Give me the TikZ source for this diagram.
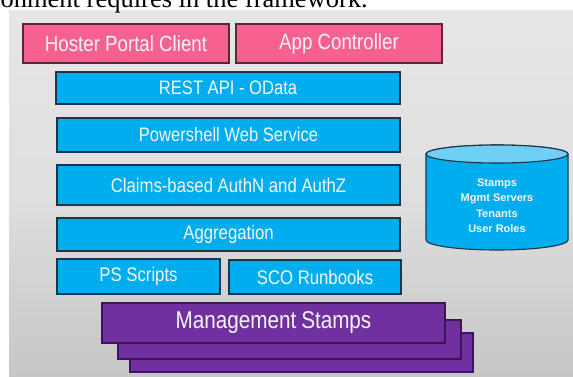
\documentclass[tikz,border=0pt]{standalone}
\usepackage{fontspec}
\setmainfont{Liberation Sans}
\newfontfamily\nar[FakeStretch=0.85]{Liberation Sans}
\newfontfamily\serifhead{Liberation Serif}
\definecolor{bgtop}{HTML}{E6E6E6}
\definecolor{bgbot}{HTML}{C6C6C6}
\definecolor{pinkfill}{HTML}{F7618F}
\definecolor{pinkline}{HTML}{5A2638}
\definecolor{bluefill}{HTML}{00AEEF}
\definecolor{blueline}{HTML}{1E3448}
\definecolor{purplefill}{HTML}{7030A0}
\definecolor{purpleline}{HTML}{3A1656}
\definecolor{cyltop}{HTML}{6FD0F5}
\definecolor{txt}{HTML}{F6F4F8}
\tikzset{
  layer/.style={draw, line width=1.1pt, text=txt, inner sep=0pt, font=\nar},
  pinkbox/.style={layer, fill=pinkfill, draw=pinkline},
  bluebox/.style={layer, fill=bluefill, draw=blueline},
  purplebox/.style={layer, fill=purplefill, draw=purpleline},
}
\begin{document}
\begin{tikzpicture}[x=1pt,y=-1pt]
\useasboundingbox (0,0) rectangle (573,376);
\clip (0,0) rectangle (573,376);
% background
\shade[top color=bgtop, bottom color=bgbot, middle color=bgtop!97!black] (9,10) rectangle (573,376);
% clipped heading text
\node[anchor=base east, inner sep=0pt, font=\serifhead\fontsize{26.5}{30}\selectfont] (head) at (368,7) {environment requires in the framework.};
% top pink
\node[pinkbox, minimum width=206, minimum height=39, font=\nar\fontsize{22}{24}\selectfont] (hpc) at (126,43.5) {Hoster Portal Client};
\node[pinkbox, minimum width=206, minimum height=39, font=\nar\fontsize{22}{24}\selectfont] (app) at (339,43.5) {App Controller};
% blue layers
\node[bluebox, minimum width=344, minimum height=32, font=\nar\fontsize{19.5}{22}\selectfont] (rest) at (228,88) {REST API - OData};
\node[bluebox, minimum width=343, minimum height=34, font=\nar\fontsize{19.5}{22}\selectfont] (psws) at (228.5,135) {Powershell Web Service};
\node[bluebox, minimum width=343, minimum height=40, font=\nar\fontsize{19.7}{22}\selectfont] (claims) at (228.5,185) {Claims-based AuthN and AuthZ};
\node[bluebox, minimum width=343, minimum height=33, font=\nar\fontsize{19.7}{22}\selectfont] (agg) at (228.5,234.5) {Aggregation};
\node[bluebox, minimum width=163, minimum height=35, font=\nar\fontsize{19.7}{22}\selectfont] (pss) at (138.5,276.5) {PS Scripts};
\node[bluebox, minimum width=172, minimum height=34, font=\nar\fontsize{19.7}{22}\selectfont] (sco) at (315,277) {SCO Runbooks};
% management stamps stack
\node[purplebox, minimum width=343, minimum height=39] (ms3) at (301.5,352.5) {};
\node[purplebox, minimum width=343, minimum height=39] (ms2) at (289.5,339.5) {};
\node[purplebox, minimum width=343, minimum height=40, font=\nar\fontsize{24.3}{26}\selectfont] (ms1) at (273.5,323) {Management\hspace{5pt}Stamps};
% cylinder
\draw[line width=1.1pt, draw=blueline, fill=bluefill]
  (426,154) -- (426,240) arc[start angle=180, end angle=0, x radius=71, y radius=10]
  -- (568,154) arc[start angle=0, end angle=-180, x radius=71, y radius=9] -- cycle;
\draw[line width=1.1pt, draw=blueline, fill=cyltop] (497,154) ellipse[x radius=71, y radius=9];
\node[text=txt, align=center, font=\bfseries\fontsize{11}{15.5}\selectfont, inner sep=0pt] (db) at (497,205.5) {Stamps\\Mgmt Servers\\Tenants\\User Roles};
\end{tikzpicture}
\end{document}
